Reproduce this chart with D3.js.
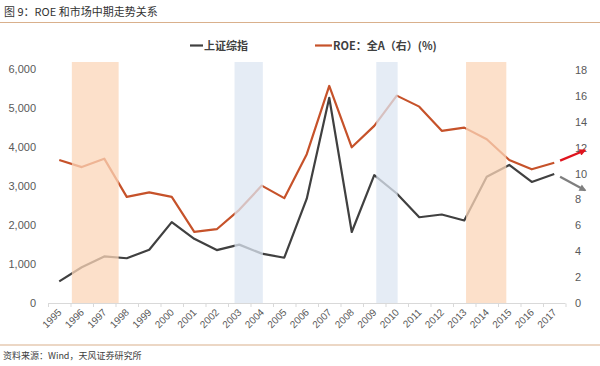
<!DOCTYPE html>
<html>
<head>
<meta charset="utf-8">
<script src="https://cdn.jsdelivr.net/npm/d3@7"></script>
<style>
  body { margin: 0; background: #fff; }
  svg { display: block; font-family: "Liberation Sans", Arial, "Noto Sans CJK SC", sans-serif; }
</style>
</head>
<body>
<svg id="chart" width="600" height="366"></svg>
<script>
// datos
const years = ['1995','1996','1997','1998','1999','2000','2001','2002','2003','2004','2005','2006',
               '2007','2008','2009','2010','2011','2012','2013','2014','2015','2016','2017'];
const shIndex = [555, 917, 1194, 1147, 1367, 2073, 1646, 1357, 1497, 1266, 1161, 2675,
                 5262, 1821, 3277, 2808, 2199, 2269, 2116, 3235, 3539, 3104, 3307];
const roeA = [11.05, 10.5, 11.15, 8.2, 8.55, 8.2, 5.5, 5.7, 7.2, 9.07, 8.1, 11.5,
              16.77, 12.03, 13.68, 16.02, 15.17, 13.3, 13.55, 12.65, 11.05, 10.33, 10.84];
const leftTicks = [0, 1000, 2000, 3000, 4000, 5000, 6000];
const rightTicks = [0, 2, 4, 6, 8, 10, 12, 14, 16, 18];
// periodos sombreados (en años)
const bandStart = [1995.56, 2002.79, 2009.09, 2013.08];
const bandEnd   = [1997.64, 2004.05, 2010.04, 2014.87];
const bandKind  = ['up', 'down', 'down', 'up'];

const svg = d3.select('#chart');

// titulo
svg.append('text')
    .attr('x', 4).attr('y', 16)
    .attr('font-size', 11).attr('fill', '#333')
    .attr('font-family', '"Noto Sans CJK SC", sans-serif')
    .text('图 9：ROE 和市场中期走势关系');
svg.append('line').attr('x1', 0).attr('x2', 600).attr('y1', 22.5).attr('y2', 22.5)
    .attr('stroke', '#D9B08C').attr('stroke-width', 1.2);

// escalas
const x = d3.scaleBand().domain(years).range([48, 565.5]);
const xc = d => x(d) + x.bandwidth() / 2;
const xYear = d3.scaleLinear().domain([1995, 2017]).range([xc('1995'), xc('2017')]);
const yL = d3.scaleLinear().domain([0, 6000]).range([303, 69]);
const yR = d3.scaleLinear().domain([0, 18]).range([303, 70]);

// lineas
const lineL = d3.line().x((d, i) => xc(years[i])).y(d => yL(d));
const lineR = d3.line().x((d, i) => xc(years[i])).y(d => yR(d));

svg.append('path').datum(shIndex).attr('d', lineL)
    .attr('fill', 'none').attr('stroke', '#404040').attr('stroke-width', 2.2)
    .attr('stroke-linejoin', 'round');
svg.append('path').datum(roeA).attr('d', lineR)
    .attr('fill', 'none').attr('stroke', '#C6522A').attr('stroke-width', 2.2)
    .attr('stroke-linejoin', 'round');

// bandas encima de las lineas
svg.selectAll('.band')
    .data(bandStart)
    .enter().append('rect')
    .attr('class', 'band')
    .attr('x', d => xYear(d))
    .attr('width', (d, i) => xYear(bandEnd[i]) - xYear(d))
    .attr('y', 62)
    .attr('height', 303 - 62)
    .attr('fill', (d, i) => bandKind[i] === 'up' ? '#FBD5B8' : '#DCE6F2')
    .attr('opacity', 0.75);

// eje x
svg.append('line').attr('x1', 48).attr('x2', 565.5).attr('y1', 303.5).attr('y2', 303.5)
    .attr('stroke', '#D9D9D9');
svg.selectAll('.xtick')
    .data(years.concat(['end']))
    .enter().append('line')
    .attr('x1', (d, i) => 48 + i * x.step() + 0.5)
    .attr('x2', (d, i) => 48 + i * x.step() + 0.5)
    .attr('y1', 303.5).attr('y2', 307)
    .attr('stroke', '#D9D9D9');
svg.selectAll('.xlabel')
    .data(years)
    .enter().append('text')
    .attr('transform', d => 'translate(' + (xc(d) + 3) + ',313) rotate(-45)')
    .attr('text-anchor', 'end')
    .attr('font-size', 10).attr('fill', '#595959')
    .text(d => d);

// ejes y
svg.selectAll('.ylabel')
    .data(leftTicks)
    .enter().append('text')
    .attr('x', 36).attr('y', d => yL(d) + 4)
    .attr('text-anchor', 'end')
    .attr('font-size', 11).attr('fill', '#595959')
    .text(d => d3.format(',')(d));
svg.selectAll('.rlabel')
    .data(rightTicks)
    .enter().append('text')
    .attr('x', 575).attr('y', d => yR(d) + 4)
    .attr('text-anchor', 'start')
    .attr('font-size', 11).attr('fill', '#595959')
    .text(d => d);

// flechas
const defs = svg.append('defs');
[['arrRed', '#E0141E'], ['arrGray', '#7F7F7F']].forEach(function (m) {
    defs.append('marker')
        .attr('id', m[0]).attr('viewBox', '0 0 10 10')
        .attr('refX', 8).attr('refY', 5)
        .attr('markerWidth', 3.6).attr('markerHeight', 3)
        .attr('orient', 'auto')
        .append('path').attr('d', 'M0,0 L10,5 L0,10 z').attr('fill', m[1]);
});
svg.append('line')
    .attr('x1', xYear(2017.26)).attr('y1', yR(11.0))
    .attr('x2', xYear(2018.37)).attr('y2', yR(11.8))
    .attr('stroke', '#E0141E').attr('stroke-width', 2.3)
    .attr('marker-end', 'url(#arrRed)');
svg.append('line')
    .attr('x1', xYear(2017.26)).attr('y1', yL(3240))
    .attr('x2', xYear(2018.37)).attr('y2', yL(2890))
    .attr('stroke', '#7F7F7F').attr('stroke-width', 2.3)
    .attr('marker-end', 'url(#arrGray)');

// leyenda
const legend = svg.append('g').attr('font-weight', 'bold').attr('font-size', 11)
    .attr('fill', '#404040').attr('font-family', '"Noto Sans CJK SC", sans-serif');
legend.append('line').attr('x1', 190).attr('x2', 203).attr('y1', 45.5).attr('y2', 45.5)
    .attr('stroke', '#404040').attr('stroke-width', 2.2);
legend.append('text').attr('x', 204).attr('y', 49.5).text('上证综指');
legend.append('line').attr('x1', 315).attr('x2', 332).attr('y1', 45.5).attr('y2', 45.5)
    .attr('stroke', '#C6522A').attr('stroke-width', 2.2);
legend.append('text').attr('x', 333).attr('y', 49.5).text('ROE：全A（右）(%)');

// fuente
svg.append('line').attr('x1', 0).attr('x2', 600).attr('y1', 345).attr('y2', 345)
    .attr('stroke', '#D9B08C').attr('stroke-width', 1.2);
svg.append('text')
    .attr('x', 3).attr('y', 359)
    .attr('font-size', 9).attr('fill', '#404040')
    .attr('font-family', '"Noto Sans CJK SC", sans-serif')
    .text('资料来源：Wind，天风证券研究所');
</script>
</body>
</html>
